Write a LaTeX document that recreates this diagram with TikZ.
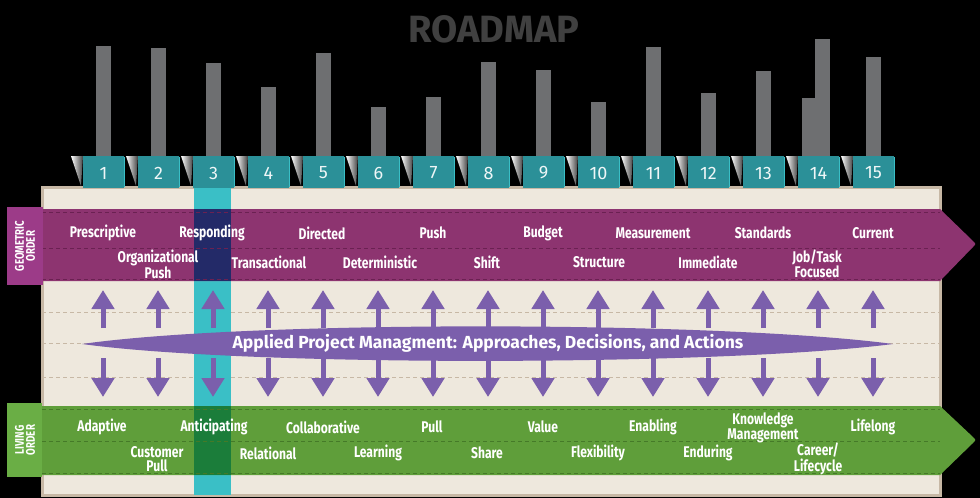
\documentclass[tikz,border=0pt]{standalone}
\usepackage{fontspec}
\setmainfont{Fira Sans}
\newfontfamily\condfont[FakeStretch=0.78]{Fira Sans}
\usetikzlibrary{arrows.meta}

\definecolor{panelbg}{HTML}{EEE8DD}
\definecolor{paneledge}{HTML}{C7B8A5}
\definecolor{geoband}{HTML}{8D3470}
\definecolor{geobox}{HTML}{9C3B88}
\definecolor{geodash}{HTML}{6B2152}
\definecolor{liveband}{HTML}{5F9E3A}
\definecolor{livebox}{HTML}{6AAE45}
\definecolor{livedash}{HTML}{457A28}
\definecolor{colteal}{HTML}{3ABFC6}
\definecolor{colnavy}{HTML}{232A68}
\definecolor{colgreen}{HTML}{1B7D3A}
\definecolor{tabteal}{HTML}{2B9098}
\definecolor{apmviolet}{HTML}{7B5FAC}
\definecolor{bargray}{HTML}{6E6F71}
\definecolor{titlegray}{HTML}{404040}

\tikzset{
  bandtext/.style={text=white,inner sep=0,align=center,
    font=\condfont\bfseries\fontsize{15.5}{14}\selectfont},
  sidetext/.style={text=white,inner sep=0,align=center,rotate=90,
    font=\condfont\bfseries\fontsize{12.5}{11}\selectfont},
  tabnum/.style={text=white!92!tabteal,inner sep=0,
    font=\fontsize{18}{18}\selectfont},
  guide/.style={dash pattern=on 4pt off 3pt,line width=0.8pt},
  uparrow/.style={draw=apmviolet,line width=5pt,
    -{Triangle[width=22pt,length=19pt]}},
}

\begin{document}
\begin{tikzpicture}[x=1pt,y=-1pt]
  \fill[black] (0,0) rectangle (980,498);

  % panel
  \filldraw[fill=panelbg,draw=paneledge,line width=3pt] (42,187) rectangle (940,495);
  \draw[guide,draw=paneledge] (42,312) -- (940,312);
  \draw[guide,draw=paneledge] (42,343) -- (940,343);
  \draw[guide,draw=paneledge] (42,377) -- (940,377);

  % highlighted column 3
  \fill[colteal] (194,188) rectangle (231,495);

  % geometric order band
  \fill[geoband] (42,209) -- (940,209) -- (973,241)
    .. controls (976,244) .. (973,247) -- (940,281) -- (42,281) -- cycle;
  \fill[colnavy] (194,209) rectangle (231,281);
  \draw[guide,draw=geodash] (42,212) -- (940,212);
  \draw[guide,draw=geodash] (42,248) -- (940,248);
  \draw[guide,draw=geodash] (42,279) -- (940,279);
  \fill[geobox] (7,207) rectangle (43,285);
  \node[sidetext] (geo) at (25,246) {GEOMETRIC\\ORDER};

  % living order band
  \fill[liveband] (42,406) -- (940,406) -- (973,437)
    .. controls (976,440) .. (973,443) -- (940,475) -- (42,475) -- cycle;
  \fill[colgreen] (194,406) rectangle (231,475);
  \draw[guide,draw=livedash] (42,409) -- (940,409);
  \draw[guide,draw=livedash] (42,441) -- (940,441);
  \draw[guide,draw=livedash] (42,473) -- (940,473);
  \fill[livebox] (7,403) rectangle (42,477);
  \node[sidetext] (live) at (25,440) {LIVING\\ORDER};

  % geometric order labels
  \node[bandtext] (g1)  at (103,233) {Prescriptive};
  \node[bandtext] (g2)  at (158,264) {Organizational\\Push};
  \node[bandtext] (g3)  at (212,233) {Responding};
  \node[bandtext] (g4)  at (269,262) {Transactional};
  \node[bandtext] (g5)  at (322,233) {Directed};
  \node[bandtext] (g6)  at (380,262) {Deterministic};
  \node[bandtext] (g7)  at (433,233) {Push};
  \node[bandtext] (g8)  at (487,262) {Shift};
  \node[bandtext] (g9)  at (543,233) {Budget};
  \node[bandtext] (g10) at (599,262) {Structure};
  \node[bandtext] (g11) at (653,233) {Measurement};
  \node[bandtext] (g12) at (708,262) {Immediate};
  \node[bandtext] (g13) at (763,233) {Standards};
  \node[bandtext] (g14) at (817,264) {Job/Task\\Focused};
  \node[bandtext] (g15) at (873,233) {Current};

  % living order labels
  \node[bandtext] (l1)  at (102,427) {Adaptive};
  \node[bandtext] (l2)  at (157,459) {Customer\\Pull};
  \node[bandtext] (l3)  at (214,427) {Anticipating};
  \node[bandtext] (l4)  at (268,453) {Relational};
  \node[bandtext] (l5)  at (323,427) {Collaborative};
  \node[bandtext] (l6)  at (378,453) {Learning};
  \node[bandtext] (l7)  at (432,427) {Pull};
  \node[bandtext] (l8)  at (487,453) {Share};
  \node[bandtext] (l9)  at (543,427) {Value};
  \node[bandtext] (l10) at (598,453) {Flexibility};
  \node[bandtext] (l11) at (653,427) {Enabling};
  \node[bandtext] (l12) at (708,453) {Enduring};
  \node[bandtext] (l13) at (763,428) {Knowledge\\Management};
  \node[bandtext] (l14) at (818,459) {Career/\\Lifecycle};
  \node[bandtext] (l15) at (873,427) {Lifelong};

  % arrows to both bands
  \foreach \i in {1,...,15} {
    \pgfmathsetmacro{\cx}{48+55*\i}
    \coordinate (us\i) at (\cx,328);
    \coordinate (ue\i) at (\cx,290);
    \coordinate (ds\i) at (\cx,358);
    \coordinate (de\i) at (\cx,397);
    \draw[uparrow] (us\i) -- (ue\i);
    \draw[uparrow] (ds\i) -- (de\i);
  }

  % applied project management lens
  \fill[apmviolet] (82,344) .. controls (250,320) and (720,321) .. (893,344)
    .. controls (720,366) and (250,367) .. (82,344);
  \node[text=white,inner sep=0,font=\bfseries\fontsize{17.5}{18}\selectfont]
    (apm) at (488,343) {Applied Project Managment: Approaches, Decisions, and Actions};

  % number tabs
  \foreach \i in {1,...,15} {
    \pgfmathsetmacro{\cx}{48+55*\i}
    \shade[left color=white,right color=black!75]
      (\cx-32,156) -- (\cx-20,156) -- (\cx-22,186) -- cycle;
    \fill[tabteal] (\cx-20,156) rectangle (\cx+21,188);
    \draw[colteal,line width=0.8pt] (\cx+21,157) -- (\cx+21,187);
    \node[tabnum] (t\i) at (\cx+0.5,173) {\i};
  }

  % bars above the tabs
  \foreach \i/\top in {1/46,2/48,3/63,4/87,5/53,6/107,7/97,8/62,9/70,
                      10/102,11/47,12/93,13/71,15/57} {
    \pgfmathsetmacro{\cx}{48+55*\i}
    \fill[bargray] (\cx-7.5,\top) rectangle (\cx+7.5,156);
  }
  \fill[bargray] (802,98) rectangle (816,156);
  \fill[bargray] (815,39) rectangle (830,156);

  % title
  \node[text=titlegray,inner sep=0,font=\bfseries\fontsize{38}{38}\selectfont]
    (title) at (494,29) {ROADMAP};
\end{tikzpicture}
\end{document}
